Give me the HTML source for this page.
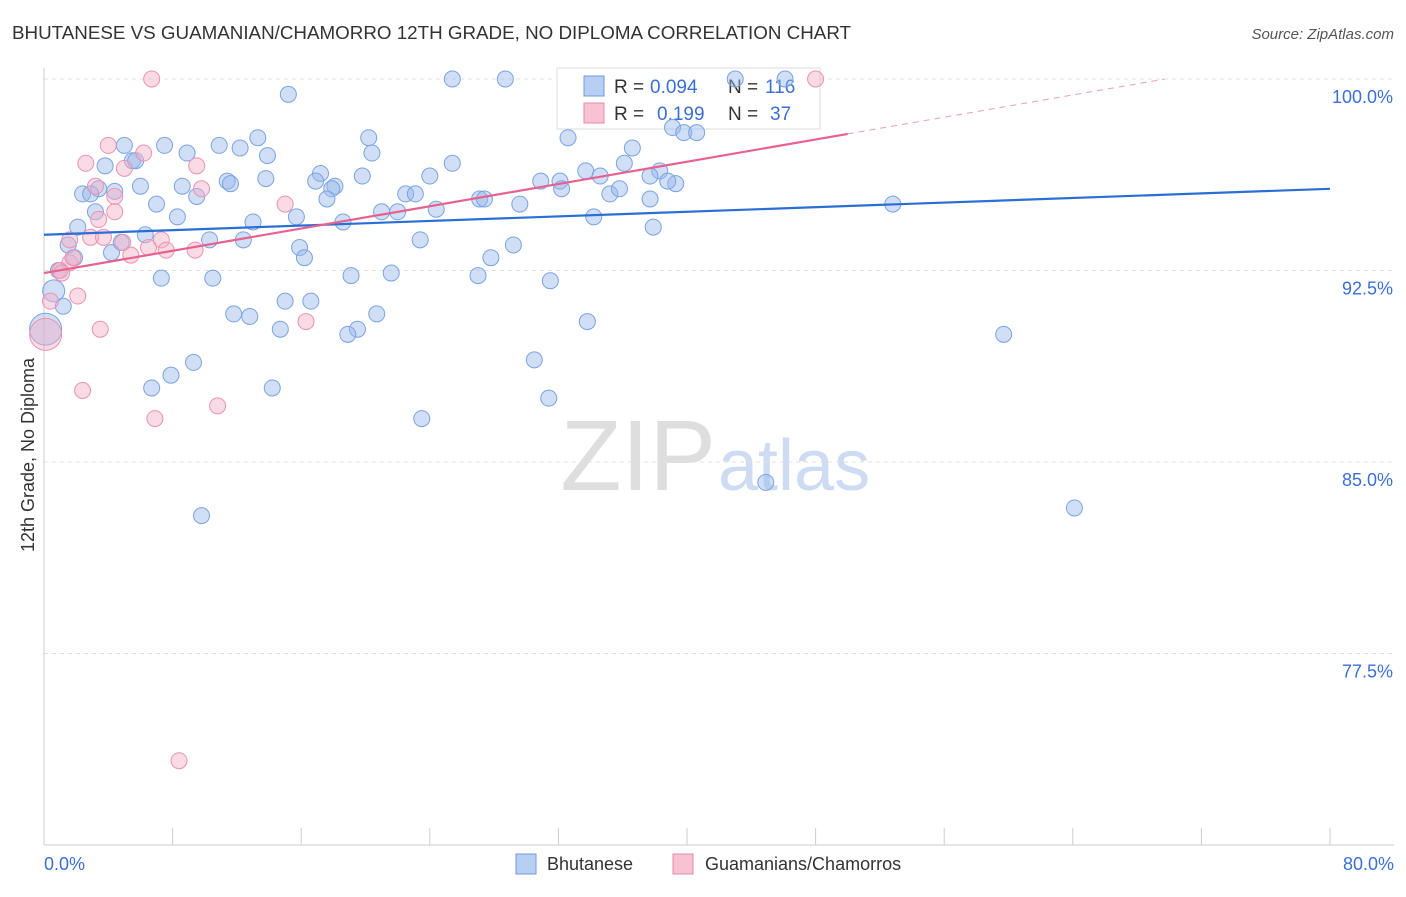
<!DOCTYPE html>
<html><head><meta charset="utf-8"><style>
body{margin:0;background:#fff;font-family:"Liberation Sans",sans-serif;}
svg text{font-family:"Liberation Sans",sans-serif;}
</style></head><body>
<svg id="chart" width="1406" height="892" xmlns="http://www.w3.org/2000/svg">
<text x="12" y="39" font-size="18.8" fill="#333">BHUTANESE VS GUAMANIAN/CHAMORRO 12TH GRADE, NO DIPLOMA CORRELATION CHART</text>
<text x="1394" y="39" font-size="15" fill="#555" font-style="italic" text-anchor="end">Source: ZipAtlas.com</text>
<text x="716" y="490" font-size="100" fill="#dedede" text-anchor="end" font-family="Liberation Serif">ZIP</text>
<text x="718" y="490" font-size="72" fill="#cddcf2">atlas</text>
<g id="grid"></g>
<g id="axes"></g>
<g>
<rect x="557" y="68" width="263" height="61" fill="#fff" stroke="#ddd"/>
<rect x="584" y="76" width="20" height="20" fill="#b7cff2" stroke="#6d9be0"/>
<text x="614" y="93" font-size="19" fill="#333">R =</text>
<text x="650" y="93" font-size="19" fill="#3b6fd6">0.094</text>
<text x="728" y="93" font-size="19" fill="#333">N =</text>
<text x="765" y="93" font-size="19" fill="#3b6fd6">116</text>
<rect x="584" y="103" width="20" height="20" fill="#f7c3d3" stroke="#e88aa8"/>
<text x="614" y="120" font-size="19" fill="#333">R =</text>
<text x="657" y="120" font-size="19" fill="#3b6fd6">0.199</text>
<text x="728" y="120" font-size="19" fill="#333">N =</text>
<text x="770" y="120" font-size="19" fill="#3b6fd6">37</text>
</g>
<g id="pts"></g>
<g id="lines"></g>
<text transform="translate(34,455) rotate(-90)" font-size="18" fill="#333" text-anchor="middle">12th Grade, No Diploma</text>
<g>
<rect x="516" y="854" width="20" height="20" fill="#b7cff2" stroke="#6d9be0"/>
<text x="547" y="870" font-size="18" fill="#333">Bhutanese</text>
<rect x="673" y="854" width="20" height="20" fill="#f7c3d3" stroke="#e88aa8"/>
<text x="705" y="870" font-size="18" fill="#333">Guamanians/Chamorros</text>
</g>
</svg>
<script>
const blueX=[15.2,25.4,28.7,43.0,46.1,39.1,39.8,40.6,5.0,7.5,10.9,13.3,20.2,32.6,8.9,12.2,13.9,20.4,25.4,36.6,33.7,36.1,3.8,5.5,5.7,17.2,19.8,24.0,34.6,38.3,37.7,30.9,32.1,6.0,8.6,11.4,11.6,13.8,16.9,18.1,17.9,39.3,38.8,3.4,2.4,2.9,4.4,9.5,17.6,22.5,23.1,27.1,27.4,32.2,35.2,35.8,37.7,52.8,7.0,3.2,8.3,15.7,18.6,21.0,22.0,24.4,29.6,34.2,2.1,13.0,37.9,6.3,10.3,12.4,4.8,15.9,23.4,29.2,1.5,4.2,1.9,16.2,27.8,0.9,7.3,10.5,19.1,21.6,27.0,31.5,1.2,11.8,12.8,15.0,16.6,20.7,14.7,19.5,18.9,33.8,59.7,9.3,30.5,7.9,6.7,14.2,31.4,23.5,9.8,44.9,64.1,0.6,0.1];
const blueY=[99.4,100,100,100,100,98.1,97.9,97.9,97.4,97.4,97.4,97.7,97.7,97.7,97.1,97.3,97.0,97.1,96.7,97.3,96.4,96.7,96.6,96.8,96.8,96.3,96.2,96.2,96.2,96.4,96.2,96.0,96.0,95.8,95.8,96.0,95.9,96.1,96.0,95.8,95.7,95.9,96.0,95.7,95.5,95.5,95.6,95.4,95.3,95.5,95.5,95.3,95.3,95.7,95.5,95.7,95.3,95.1,95.1,94.8,94.6,94.6,94.4,94.8,94.8,94.9,95.1,94.6,94.2,94.4,94.2,93.9,93.7,93.7,93.6,93.4,93.7,93.5,93.5,93.2,93.0,93.0,93.0,92.5,92.2,92.2,92.3,92.4,92.3,92.1,91.1,90.8,90.7,91.3,91.3,90.8,90.2,90.2,90.0,90.5,90.0,88.9,89.0,88.4,87.9,87.9,87.5,86.7,82.9,84.2,83.2,91.7,90.2];
const pinkX=[6.7,48.0,4.0,6.2,2.6,9.5,5.0,3.2,9.8,4.4,15.0,3.4,4.4,1.6,2.9,3.7,4.9,7.3,6.5,7.6,9.4,5.4,1.6,1.0,1.1,2.1,0.4,3.5,16.3,0.1,2.4,10.8,6.9,8.4,1.8];
const pinkY=[100,100,97.4,97.1,96.7,96.6,96.5,95.8,95.7,95.4,95.1,94.5,94.8,93.7,93.8,93.8,93.6,93.7,93.4,93.3,93.3,93.1,92.8,92.5,92.4,91.5,91.3,90.2,90.5,90.0,87.8,87.2,86.7,73.3,93.0];
const yTicks=[100,92.5,85,77.5];
const yTickLabels=["100.0%","92.5%","85.0%","77.5%"];
const blueTrend=[93.9,95.7];
const pinkTrend=[92.4,97.85];
const NS="http://www.w3.org/2000/svg";
const X=v=>44+v/80*1286;
const Y=v=>79+(100-v)/7.5*191.5;
function mk(tag,attrs,parent){const e=document.createElementNS(NS,tag);for(const k in attrs)e.setAttribute(k,attrs[k]);document.getElementById(parent).appendChild(e);return e;}
yTicks.forEach((t,i)=>{
 const l=mk('line',{x1:44,x2:1394,y1:Y(t),y2:Y(t),stroke:'#e0e0e0','stroke-dasharray':'4,4'},'grid');
 
 
 const tx=mk('text',{x:1393,y:Y(t)+24,'font-size':18,fill:'#3b6fd6','text-anchor':'end'},'grid');
 tx.textContent=yTickLabels[i];
 
 
});
const ax=mk('line',{x1:44,x2:1394,y1:845,y2:845,stroke:'#ccc'},'axes');


const ay=mk('line',{x1:44,x2:44,y1:68,y2:845,stroke:'#ccc'},'axes');


for(let i=0;i<=10;i++){const t=mk('line',{x1:X(i*8),x2:X(i*8),y1:828,y2:845,stroke:'#ccc'},'axes');
 
 }
const x0=mk('text',{x:44,y:870,'font-size':18,fill:'#3b6fd6'},'axes');x0.textContent='0.0%';


const x1=mk('text',{x:1394,y:870,'font-size':18,fill:'#3b6fd6','text-anchor':'end'},'axes');x1.textContent='80.0%';


blueX.forEach((v,i)=>{const big=i>=blueX.length-2;
 const c=mk('circle',{cx:X(v),cy:Y(blueY[i]),r:big?(i==blueX.length-1?16:11):8,fill:'rgba(150,185,235,0.45)',stroke:'#7aa3e3','stroke-width':1},'pts');
 
 });
pinkX.forEach((v,i)=>{const big=i==29;
 const c=mk('circle',{cx:X(v),cy:Y(pinkY[i]),r:big?16:8,fill:'rgba(245,175,198,0.45)',stroke:'#eb93b0','stroke-width':1},'pts');
 
 });
const bl=mk('line',{x1:X(0),y1:Y(blueTrend[0]),x2:X(80),y2:Y(blueTrend[1]),stroke:'#2a6fd6','stroke-width':2.2},'lines');


const slope=(pinkTrend[1]-pinkTrend[0])/50;
const pl=mk('line',{x1:X(0),y1:Y(pinkTrend[0]),x2:X(50),y2:Y(pinkTrend[1]),stroke:'#e8608f','stroke-width':2.2},'lines');


const xe=(100-pinkTrend[0])/slope;
const pd=mk('line',{x1:X(50),y1:Y(pinkTrend[1]),x2:X(xe),y2:Y(100),stroke:'#e8a0b8','stroke-width':1,'stroke-dasharray':'6,5'},'lines');


</script>
</body></html>
